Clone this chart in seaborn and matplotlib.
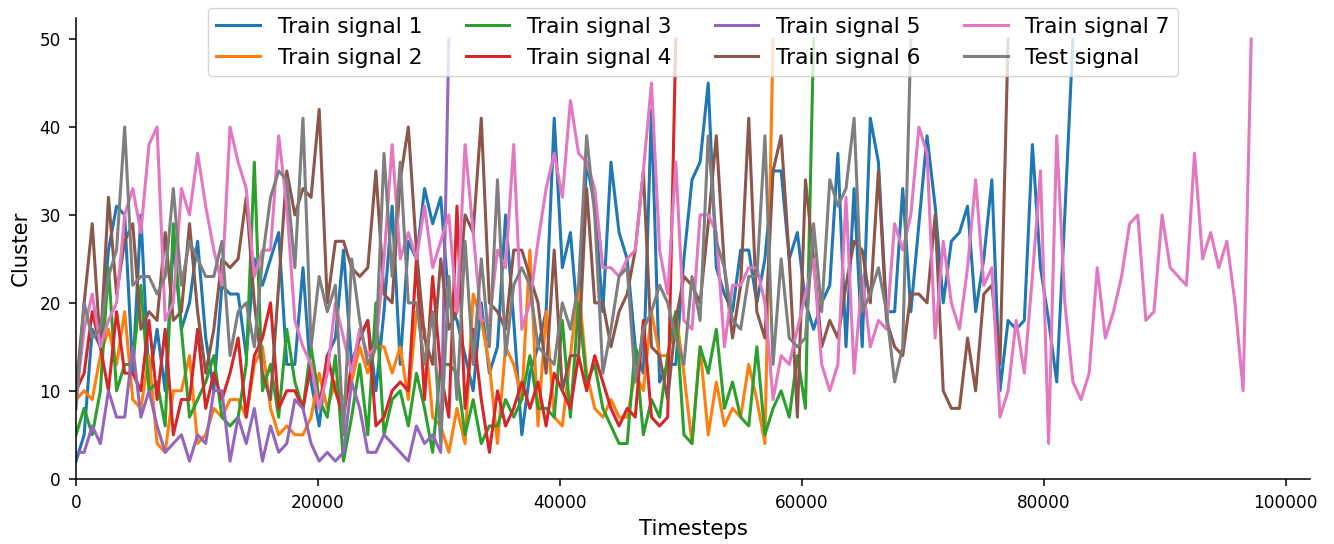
import numpy as np
import pandas as pd
import matplotlib
matplotlib.use("Agg")
import matplotlib.pyplot as plt
import seaborn as sns

# signals are sampled every STEP timesteps, the last sample of each jumps to cluster 50
STEP = 670

train_1 = [2, 5, 17, 15, 26, 31, 30, 12, 30, 11, 17, 10, 27, 17, 20, 27, 16, 10, 22, 21,
           21, 14, 25, 22, 25, 28, 13, 13, 24, 11, 6, 14, 16, 26, 13, 16, 18, 10, 19,
           31, 13, 27, 25, 33, 29, 32, 20, 18, 14, 10, 20, 12, 15, 30, 18, 5, 12, 15,
           19, 41, 24, 28, 17, 36, 31, 19, 36, 28, 25, 15, 12, 42, 11, 13, 13, 25, 34,
           36, 45, 24, 21, 19, 26, 26, 20, 25, 35, 35, 25, 28, 20, 17, 20, 22, 37, 15,
           33, 15, 41, 36, 19, 19, 33, 19, 29, 39, 31, 20, 27, 28, 31, 19, 25, 34, 10, 18,
           17, 18, 38, 24, 18, 11, 30, 50]
train_2 = [9, 10, 9, 14, 17, 13, 19, 9, 8, 14, 4, 3, 10, 10, 14, 4, 5, 8, 7, 9,
           9, 7, 13, 15, 8, 5, 6, 5, 5, 7, 12, 8, 11, 9, 11, 15, 12, 15, 15,
           12, 15, 9, 19, 17, 7, 6, 3, 8, 4, 21, 18, 13, 4, 15, 13, 9, 26, 6,
           19, 7, 6, 14, 22, 12, 8, 7, 9, 7, 7, 12, 10, 19, 14, 14, 19, 12, 4,
           15, 5, 11, 6, 8, 7, 13, 9, 4, 50]
train_3 = [5, 8, 5, 10, 24, 10, 13, 13, 22, 10, 11, 6, 29, 17, 7, 9, 11, 14, 7, 6,
           7, 13, 36, 10, 13, 7, 17, 11, 8, 15, 9, 7, 14, 2, 7, 13, 5, 20, 5,
           9, 10, 6, 12, 8, 3, 13, 13, 12, 5, 9, 4, 6, 6, 9, 7, 9, 14, 8,
           8, 7, 18, 7, 20, 11, 13, 8, 6, 4, 4, 15, 5, 9, 7, 14, 19, 5, 4,
           15, 12, 17, 8, 11, 7, 6, 15, 5, 8, 10, 7, 14, 8, 50]
train_4 = [10, 12, 19, 15, 10, 19, 12, 12, 10, 18, 9, 17, 5, 9, 9, 17, 8, 12, 9, 12,
           16, 7, 14, 16, 20, 8, 10, 10, 8, 13, 8, 14, 10, 7, 13, 16, 18, 6, 7,
           10, 11, 10, 25, 9, 23, 12, 7, 31, 8, 17, 9, 3, 10, 6, 8, 11, 8, 11,
           6, 12, 10, 8, 14, 10, 14, 11, 8, 6, 8, 7, 18, 7, 6, 7, 50]
train_5 = [3, 3, 6, 4, 10, 7, 7, 15, 7, 10, 6, 3, 4, 5, 2, 5, 4, 10, 10, 2,
           7, 4, 8, 2, 6, 3, 4, 9, 8, 4, 2, 3, 2, 3, 11, 8, 3, 3, 5,
           4, 3, 2, 6, 4, 5, 3, 50]
train_6 = [10, 20, 29, 15, 32, 21, 27, 29, 17, 19, 18, 28, 18, 19, 29, 19, 12, 17, 25, 24,
           25, 32, 20, 12, 9, 22, 35, 30, 33, 32, 42, 20, 27, 27, 24, 23, 24, 35, 21,
           20, 34, 40, 26, 16, 13, 25, 17, 19, 30, 28, 41, 20, 19, 17, 26, 26, 23, 20,
           12, 26, 10, 14, 14, 33, 20, 20, 15, 19, 21, 26, 35, 15, 14, 9, 18, 23, 22,
           20, 29, 39, 24, 16, 22, 41, 19, 16, 35, 39, 25, 7, 34, 25, 15, 18, 16, 22,
           27, 26, 20, 35, 18, 15, 14, 21, 21, 20, 30, 10, 8, 8, 16, 10, 21, 22, 13, 50]
train_7 = [9, 17, 21, 15, 18, 20, 30, 33, 28, 38, 40, 18, 20, 33, 30, 37, 31, 26, 22, 40,
           36, 33, 23, 26, 26, 39, 31, 18, 15, 13, 8, 12, 20, 16, 12, 17, 14, 15, 25,
           38, 25, 28, 25, 31, 24, 27, 30, 19, 38, 28, 18, 18, 26, 24, 38, 17, 20, 27,
           33, 37, 32, 43, 37, 36, 33, 24, 24, 23, 25, 26, 35, 45, 26, 21, 36, 18, 17,
           30, 30, 28, 15, 22, 22, 24, 24, 20, 9, 14, 13, 17, 21, 25, 13, 10, 13, 32,
           12, 23, 15, 18, 17, 29, 26, 30, 40, 37, 16, 27, 20, 17, 24, 34, 22, 24, 7,
           10, 18, 12, 23, 35, 4, 39, 20, 11, 9, 12, 24, 16, 19, 23, 29, 30, 18, 19,
           30, 24, 23, 22, 37, 25, 28, 24, 27, 20, 10, 50]
test_signal = [8, 20, 16, 17, 23, 26, 40, 22, 23, 23, 21, 23, 33, 22, 27, 25, 23, 23, 27, 14,
               19, 20, 15, 25, 32, 35, 34, 24, 41, 15, 23, 19, 22, 5, 25, 18, 13, 15, 37,
               23, 36, 20, 20, 13, 19, 4, 23, 9, 27, 13, 25, 15, 34, 14, 22, 24, 22, 15,
               14, 13, 20, 17, 22, 39, 30, 12, 17, 23, 24, 11, 17, 19, 22, 20, 16, 13, 23,
               18, 39, 27, 24, 18, 17, 23, 23, 39, 13, 25, 16, 15, 16, 29, 19, 34, 31, 33,
               41, 19, 21, 24, 19, 11, 15, 50]

signal_names = ["Train signal 1", "Train signal 2", "Train signal 3", "Train signal 4",
                "Train signal 5", "Train signal 6", "Train signal 7", "Test signal"]
signal_values = [train_1, train_2, train_3, train_4, train_5, train_6, train_7, test_signal]

# long format table for seaborn
frames = []
for name, vals in zip(signal_names, signal_values):
    frames.append(pd.DataFrame({"Timesteps": np.arange(len(vals)) * STEP,
                                "Cluster": vals,
                                "signal": name}))
df = pd.concat(frames, ignore_index=True)

fig, ax = plt.subplots(figsize=(13.34, 5.44), dpi=100)
fig.subplots_adjust(left=0.057, right=0.982, bottom=0.12, top=0.967)

sns.lineplot(data=df, x="Timesteps", y="Cluster", hue="signal", hue_order=signal_names,
             palette="tab10", linewidth=2.2, errorbar=None, ax=ax)

ax.set_xlim(left=0)
ax.set_ylim(bottom=0)
ax.set_xlabel("Timesteps", fontsize=15.3, labelpad=5)
ax.set_ylabel("Cluster", fontsize=15.3, labelpad=6)
ax.tick_params(labelsize=12.2, length=5, width=1.1, pad=6)
for side in ["left", "bottom"]:
    ax.spines[side].set_linewidth(1.1)
sns.despine(ax=ax)

handles, labels = ax.get_legend_handles_labels()
ax.legend(handles, labels, ncol=4, loc="upper center", bbox_to_anchor=(0.5, 1.045),
          fontsize=15.7)

fig.savefig("out.png", dpi=100)
